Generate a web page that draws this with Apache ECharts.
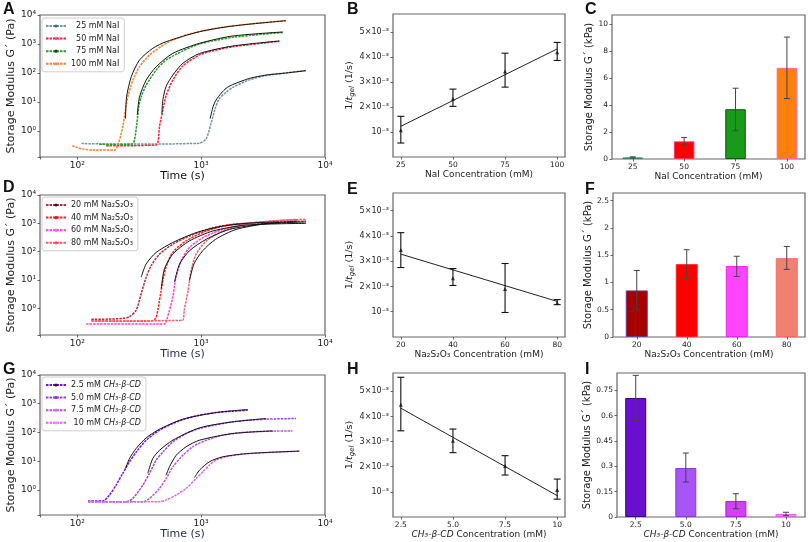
<!DOCTYPE html>
<html><head><meta charset="utf-8">
<script src="https://cdn.jsdelivr.net/npm/echarts@6/dist/echarts.min.js"></script>
<style>html,body{margin:0;padding:0;background:#fff}#c{width:810px;height:542px}</style>
</head><body><div id="c"></div>
<script>
// ---------- DATA ----------
// Panel A: G' vs time, NaI series  [time (s), G' (Pa)]
const naiNames = ['\u200725 mM NaI', '\u200750 mM NaI', '\u200775 mM NaI', '100 mM NaI'];
const naI25 = [[108,0.37],[150,0.36],[250,0.36],[400,0.36],[600,0.36],[800,0.37],[970,0.38],[1100,0.55],[1200,1.8],[1300,6],[1400,13],[1600,22],[1800,32],[2450,58],[3340,82],[4560,98],[7000,122]];
const naI50 = [[171,0.31],[250,0.31],[350,0.32],[434,0.33],[450,0.45],[461,1.4],[491,5.3],[522,17],[591,57],[711,175],[970,420],[1321,620],[1800,800],[3343,1110],[4283,1250]];
const naI75 = [[151,0.35],[220,0.34],[280,0.36],[290,0.49],[303,1.84],[314,6.9],[328,15.3],[360,38],[434,127],[522,281],[711,580],[970,1000],[1800,1700],[4557,2500]];
const naI100 = [[91,0.31],[100,0.27],[111,0.24],[134,0.22],[200,0.22],[219,0.49],[233,1.41],[245,5.3],[256,15.3],[281,57],[318,165],[383,418],[522,1054],[757,2043],[1321,3467],[2453,4898],[4846,6379]];
const fitNaI25 = [[1183,2.7],[1250,7],[1320,11.7],[1450,20],[1590,29.6],[1800,40],[2450,65],[3340,85],[4560,97],[7000,120]];
const fitNaI50 = [[482,4],[491,12],[522,35],[591,85],[711,215],[970,470],[1800,853],[4283,1268]];
const fitNaI75 = [[305,3.6],[318,15],[360,57],[434,165],[591,477],[970,1054],[1800,1888],[4557,2594]];
const fitNaI100 = [[245,2.7],[250,15],[273,75],[318,281],[407,709],[522,1203],[970,2663],[1800,4177],[4846,6379]];

// Panel D: Na2S2O3 series
const thioNames = ['20 mM Na₂S₂O₃', '40 mM Na₂S₂O₃', '60 mM Na₂S₂O₃', '80 mM Na₂S₂O₃'];
const thio20 = [[130,0.41],[180,0.42],[230,0.44],[263,0.5],[299,0.87],[328,3.3],[360,12.6],[395,32],[461,82],[590,183],[805,357],[1241,700],[1915,950],[2610,1000],[4270,1000]];
const thio40 = [[130,0.36],[250,0.35],[400,0.36],[430,0.45],[447,0.87],[476,4.3],[515,25],[590,94],[755,240],[1100,535],[1690,870],[3340,1120],[7030,1200]];
const thio60 = [[118,0.28],[250,0.28],[400,0.28],[505,0.28],[537,0.51],[590,2.5],[627,12.6],[690,48],[805,141],[1030,312],[1495,610],[2610,1043],[6000,1380]];
const thio80 = [[130,0.36],[300,0.36],[500,0.37],[710,0.38],[730,0.87],[785,4.3],[830,21.6],[910,82],[1100,240],[1495,535],[2310,920],[4270,1260],[7030,1380]];
const fitThio20 = [[328,12.6],[360,37],[433,94],[590,210],[910,470],[1495,800],[2610,1040],[4270,1120]];
const fitThio40 = [[476,5],[506,25],[590,82],[805,240],[1241,535],[2310,870],[7030,1000]];
const fitThio60 = [[609,8.5],[670,37],[805,108],[1100,275],[1690,610],[3150,960],[6000,1200]];
const fitThio80 = [[805,9.7],[875,37],[1030,108],[1310,275],[1915,610],[3340,960],[7030,1120]];

// Panel G: CH3-beta-CD series
const cdNames = ['2.5 mM CH₃-β-CD', '5.0 mM CH₃-β-CD', '7.5 mM CH₃-β-CD', ' 10 mM CH₃-β-CD'];
const cd25 = [[122,0.415],[161,0.415],[182,0.67],[206,1.49],[233,3.8],[264,9.6],[299,21],[360,54],[461,120],[591,205],[757,306],[970,400],[1321,494],[1800,550],[2377,596]];
const cd50 = [[122,0.39],[200,0.39],[248,0.39],[281,0.51],[339,1.49],[383,3.8],[434,11],[491,21],[591,47],[757,92],[970,138],[1800,235],[3343,290],[5830,306]];
const cd75 = [[122,0.39],[250,0.39],[339,0.39],[383,0.51],[461,1.14],[522,2.5],[591,6.4],[711,16],[857,32],[1100,54],[1500,81],[2453,105],[5460,114]];
const cd10 = [[122,0.39],[300,0.39],[461,0.39],[522,0.45],[628,0.67],[757,1.14],[910,2.5],[1031,4.3],[1166,7.4],[1321,11],[1588,14.3],[2036,17.3],[3343,20],[6210,22.5]];
const fitCd25 = [[245,5.6],[264,12.5],[299,28],[360,65],[461,130],[711,290],[1321,494],[2377,630]];
const fitCd50 = [[371,3.8],[407,12.5],[461,24],[591,54],[970,145],[1800,235],[3343,306]];
const fitCd75 = [[522,3.3],[555,6.4],[628,16],[757,32],[970,54],[1800,92],[3800,114]];
const fitCd10 = [[883,2.7],[970,4.9],[1166,9.6],[1500,14.3],[2453,18.7],[6210,22.5]];

// Panels B/E/H: 1/t_gel vs concentration
const naiConc = [25, 50, 75, 100];
const naiRate = [1.07e-3, 2.33e-3, 3.43e-3, 4.2e-3];
const naiRateLo = [0.56e-3, 2.03e-3, 2.8e-3, 3.87e-3];
const naiRateHi = [1.63e-3, 2.72e-3, 4.16e-3, 4.59e-3];
const naiFitY = [1.23e-3, 4.33e-3];

const thioConc = [20, 40, 60, 80];
const thioRate = [3.44e-3, 2.33e-3, 1.9e-3, 1.35e-3];
const thioRateLo = [2.75e-3, 2.04e-3, 0.97e-3, 1.28e-3];
const thioRateHi = [4.13e-3, 2.71e-3, 2.91e-3, 1.48e-3];
const thioFitY = [3.28e-3, 1.41e-3];

const cdConc = [2.5, 5.0, 7.5, 10];
const cdRate = [4.47e-3, 3.03e-3, 2.03e-3, 1.07e-3];
const cdRateLo = [3.43e-3, 2.56e-3, 1.67e-3, 0.71e-3];
const cdRateHi = [5.56e-3, 3.5e-3, 2.44e-3, 1.51e-3];
const cdFitY = [4.33e-3, 0.85e-3];

// Panels C/F/I: storage modulus bars (kPa)
const naiG = [0.12, 1.31, 3.7, 6.77];
const naiGLo = [0.08, 1.04, 2.1, 4.49];
const naiGHi = [0.16, 1.6, 5.26, 9.06];
const thioG = [0.854, 1.335, 1.30, 1.445];
const thioGLo = [0.5, 1.07, 1.11, 1.24];
const thioGHi = [1.22, 1.6, 1.48, 1.66];
const cdG = [0.705, 0.29, 0.095, 0.018];
const cdGLo = [0.572, 0.207, 0.049, 0.008];
const cdGHi = [0.839, 0.379, 0.138, 0.028];

// Tick labels
const rateTicks = [1e-3, 2e-3, 3e-3, 4e-3, 5e-3];
const rateTickLabels = ['10⁻³', '2×10⁻³', '3×10⁻³', '4×10⁻³', '5×10⁻³'];
const naiTickLabels = ['25', '50', '75', '100'];
const thioTickLabels = ['20', '40', '60', '80'];
const cdTickLabels = ['2.5', '5.0', '7.5', '10'];
const cTicks = [0, 2, 4, 6, 8, 10];
const cTickLabels = ['0', '2', '4', '6', '8', '10'];
const fTicks = [0, 0.5, 1, 1.5, 2, 2.5];
const fTickLabels = ['0', '0.5', '1', '1.5', '2', '2.5'];
const iTicks = [0, 0.15, 0.3, 0.45, 0.6, 0.75];
const iTickLabels = ['0', '0.15', '0.3', '0.45', '0.6', '0.75'];

// ---------- STYLE ----------
const FONT = 'DejaVu Sans';
const TXT = '#222';
const naiLine = ['#6f93ad', '#ff1f3a', '#2a9a2a', '#ff7f2a'];
const naiMark = ['#2f6f6f', '#ff44aa', '#114411', '#ff8866'];
const thioLine = ['#b0303c', '#ff2222', '#ff40e0', '#f06070'];
const thioMark = ['#3a0a20', '#ff0000', '#ff66ee', '#ff5050'];
const cdLine = ['#7a10e0', '#9a40f0', '#c050e0', '#d868ea'];
const cdMark = ['#2a0050', '#7a30d0', '#e070e0', '#ff88ff'];
const cBar = ['#4f9e8e', '#ff0000', '#1a9a1a', '#ff7f0e'];
const cEdge = ['#3a8a6a', '#ff3366', '#0a5a0a', '#ff6688'];
const fBar = ['#a80000', '#ff0000', '#ff44ff', '#f08070'];
const fEdge = ['#6a3a8a', '#ff2222', '#ee22ee', '#ff6666'];
const iBar = ['#6a0fcf', '#a855f7', '#cc44ee', '#ee88ee'];
const iEdge = ['#3a0080', '#8a3ad0', '#aa22cc', '#dd66dd'];

const SUP = {'-':'⁻','0':'⁰','1':'¹','2':'²','3':'³','4':'⁴','5':'⁵'};
function powLabel(v) {
  const e = Math.log10(v), r = Math.round(e);
  if (Math.abs(e - r) > 1e-6) return '';
  return '10' + String(r).split('').map(c => SUP[c]).join('');
}
function lookup(ticks, labels) {
  return v => {
    for (let i = 0; i < ticks.length; i++) {
      if (Math.abs(v - ticks[i]) <= Math.abs(ticks[i]) * 1e-6 + 1e-12) return labels[i];
    }
    return '';
  };
}

const grids = [
  {left: 40, top: 15, width: 285, height: 142},   // A
  {left: 393, top: 14, width: 172, height: 143},  // B
  {left: 612, top: 15, width: 193, height: 144},  // C
  {left: 40, top: 195, width: 285, height: 140},  // D
  {left: 393, top: 193, width: 172, height: 144}, // E
  {left: 613, top: 193, width: 192, height: 144}, // F
  {left: 40, top: 375, width: 285, height: 140},  // G
  {left: 393, top: 373, width: 172, height: 144}, // H
  {left: 617, top: 373, width: 188, height: 144}  // I
].map(g => Object.assign({show: true, borderColor: '#666', borderWidth: 1.2, backgroundColor: '#fff'}, g));

const tick = {show: true, length: 2.5, inside: false, lineStyle: {color: '#444', width: 0.8}};

function logX(gi, gap, nameColor) {
  return {type: 'log', logBase: 10, gridIndex: gi, min: 50, max: 10000,
    name: 'Time (s)', nameLocation: 'middle', nameGap: gap,
    nameTextStyle: {fontSize: 11, color: nameColor, fontFamily: FONT},
    axisLabel: {formatter: powLabel, fontSize: 9, color: TXT, margin: 4, fontFamily: FONT},
    axisTick: tick, axisLine: {show: false}, splitLine: {show: false}, minorTick: {show: false}};
}
function logY(gi, min) {
  return {type: 'log', logBase: 10, gridIndex: gi, min: min, max: 10000,
    name: 'Storage Modulus G\u00b4 (Pa)', nameLocation: 'middle', nameGap: 22.5, nameRotate: 90,
    nameTextStyle: {fontSize: 11, color: TXT, fontFamily: FONT},
    axisLabel: {formatter: powLabel, fontSize: 9, color: TXT, margin: 4, fontFamily: FONT},
    axisTick: tick, axisLine: {show: false}, splitLine: {show: false}, minorTick: {show: false}};
}
const richIt = {it: {fontStyle: 'italic', fontSize: 9, fontFamily: FONT, color: TXT}};
function valAxis(gi, min, max, ticks, labels, name, gap, isY, fs, nfs, rich) {
  const ax = {type: 'value', gridIndex: gi, min: min, max: max,
    name: name, nameLocation: 'middle', nameGap: gap,
    nameTextStyle: {fontSize: nfs, color: TXT, fontFamily: FONT, rich: rich || richIt},
    axisLabel: {customValues: ticks, formatter: lookup(ticks, labels), fontSize: fs, color: TXT, margin: 4, fontFamily: FONT},
    axisTick: Object.assign({customValues: ticks}, tick),
    axisLine: {show: false}, splitLine: {show: false}};
  if (isY) ax.nameRotate = 90;
  return ax;
}

const rateRich = {
  it: {fontStyle: 'italic', fontSize: 9.5, fontFamily: FONT, color: TXT},
  sub: {fontStyle: 'italic', fontSize: 7, fontFamily: FONT, color: TXT, padding: [5, 0, 0, 0]}
};
const rateName = '1/{it|t}{sub|gel} (1/s)';

const xAxes = [
  logX(0, 11.5, '#111'),
  valAxis(1, 21.25, 103.75, naiConc, naiTickLabels, 'NaI Concentration (mM)', 12, false, 7.5, 9),
  valAxis(2, 14.9, 108.8, naiConc, naiTickLabels, 'NaI Concentration (mM)', 10.5, false, 7.5, 9),
  logX(3, 12.8, '#1f2a48'),
  valAxis(4, 17, 83, thioConc, thioTickLabels, 'Na₂S₂O₃ Concentration (mM)', 10, false, 7.5, 9),
  valAxis(5, 10.5, 87.3, thioConc, thioTickLabels, 'Na₂S₂O₃ Concentration (mM)', 11.5, false, 7.5, 9),
  logX(6, 12.8, '#1f2a48'),
  valAxis(7, 2.125, 10.375, cdConc, cdTickLabels, '{it|CH₃-β-CD} Concentration (mM)', 10.8, false, 7.5, 9),
  valAxis(8, 1.565, 10.95, cdConc, cdTickLabels, '{it|CH₃-β-CD} Concentration (mM)', 10.8, false, 7.5, 9)
];
const yAxes = [
  logY(0, 0.127),
  valAxis(1, 0, 5.73e-3, rateTicks, rateTickLabels, rateName, 36, true, 8, 9.5, rateRich),
  valAxis(2, 0, 10.7, cTicks, cTickLabels, 'Storage Modulus G\u00b4 (kPa)', 15, true, 7.5, 10),
  logY(3, 0.115),
  valAxis(4, 0, 5.7e-3, rateTicks, rateTickLabels, rateName, 36, true, 8, 9.5, rateRich),
  valAxis(5, 0, 2.64, fTicks, fTickLabels, 'Storage Modulus G\u00b4 (kPa)', 16, true, 7.5, 10),
  logY(6, 0.135),
  valAxis(7, 0, 5.73e-3, rateTicks, rateTickLabels, rateName, 36, true, 8, 9.5, rateRich),
  valAxis(8, 0, 0.853, iTicks, iTickLabels, 'Storage Modulus G\u00b4 (kPa)', 21, true, 7.5, 10)
];

function curvePanel(gi, names, curves, fits, lineColors, markColors) {
  const s = [];
  curves.forEach((d, i) => s.push({
    type: 'line', name: names[i], xAxisIndex: gi, yAxisIndex: gi, data: d,
    smooth: 0.25, symbol: 'circle', symbolSize: 3, showSymbol: false,
    lineStyle: {color: lineColors[i], width: 1.5, type: [2.5, 1]}, itemStyle: {color: markColors[i]}, z: 2
  }));
  fits.forEach(d => s.push({
    type: 'line', xAxisIndex: gi, yAxisIndex: gi, data: d, smooth: 0.25,
    symbol: 'none', showSymbol: false, lineStyle: {color: '#111', width: 1}, z: 3, silent: true
  }));
  return s;
}
function errRender(cap, color, width) {
  return function (params, api) {
    const x = api.value(0), lo = api.value(1), hi = api.value(2);
    const a = api.coord([x, lo]), b = api.coord([x, hi]);
    const st = {stroke: color, lineWidth: width};
    return {type: 'group', children: [
      {type: 'line', shape: {x1: a[0], y1: a[1], x2: b[0], y2: b[1]}, style: st},
      {type: 'line', shape: {x1: a[0] - cap, y1: a[1], x2: a[0] + cap, y2: a[1]}, style: st},
      {type: 'line', shape: {x1: b[0] - cap, y1: b[1], x2: b[0] + cap, y2: b[1]}, style: st}
    ]};
  };
}
function ratePanel(gi, conc, rate, lo, hi, fitY) {
  return [
    {type: 'line', xAxisIndex: gi, yAxisIndex: gi, data: [[conc[0], fitY[0]], [conc[conc.length - 1], fitY[1]]],
     symbol: 'none', lineStyle: {color: '#222', width: 1}, silent: true, z: 2},
    {type: 'custom', xAxisIndex: gi, yAxisIndex: gi, renderItem: errRender(3.5, '#111', 1.1),
     data: conc.map((c, i) => [c, lo[i], hi[i]]), encode: {x: 0, y: [1, 2]}, z: 4, silent: true},
    {type: 'scatter', xAxisIndex: gi, yAxisIndex: gi, data: conc.map((c, i) => [c, rate[i]]),
     symbol: 'triangle', symbolSize: 4, itemStyle: {color: '#111'}, z: 5, silent: true}
  ];
}
function barPanel(gi, conc, vals, lo, hi, colors, edges, bw) {
  return [
    {type: 'bar', xAxisIndex: gi, yAxisIndex: gi, barWidth: bw, silent: true,
     data: conc.map((c, i) => ({value: [c, vals[i]], itemStyle: {color: colors[i], borderColor: edges[i], borderWidth: 1}}))},
    {type: 'custom', xAxisIndex: gi, yAxisIndex: gi, renderItem: errRender(3, '#444', 1),
     data: conc.map((c, i) => [c, lo[i], hi[i]]), encode: {x: 0, y: [1, 2]}, z: 4, silent: true}
  ];
}

const series = [].concat(
  curvePanel(0, naiNames, [naI25, naI50, naI75, naI100], [fitNaI25, fitNaI50, fitNaI75, fitNaI100], naiLine, naiMark),
  ratePanel(1, naiConc, naiRate, naiRateLo, naiRateHi, naiFitY),
  barPanel(2, naiConc, naiG, naiGLo, naiGHi, cBar, cEdge, 20.5),
  curvePanel(3, thioNames, [thio20, thio40, thio60, thio80], [fitThio20, fitThio40, fitThio60, fitThio80], thioLine, thioMark),
  ratePanel(4, thioConc, thioRate, thioRateLo, thioRateHi, thioFitY),
  barPanel(5, thioConc, thioG, thioGLo, thioGHi, fBar, fEdge, 22),
  curvePanel(6, cdNames, [cd25, cd50, cd75, cd10], [fitCd25, fitCd50, fitCd75, fitCd10], cdLine, cdMark),
  ratePanel(7, cdConc, cdRate, cdRateLo, cdRateHi, cdFitY),
  barPanel(8, cdConc, cdG, cdGLo, cdGHi, iBar, iEdge, 21)
);

function legendFor(names, top) {
  return {data: names, orient: 'vertical', left: 42, top: top, itemWidth: 20, itemHeight: 4, itemGap: 2.6,
    selectedMode: false, backgroundColor: '#fff', borderColor: '#cfcfcf', borderWidth: 1, borderRadius: 3,
    padding: [3, 5, 3, 3],
    textStyle: {fontSize: 8, color: '#222', fontFamily: FONT, lineHeight: 10,
      rich: {i: {fontStyle: 'italic', fontSize: 8, fontFamily: FONT, color: '#222'}}},
    formatter: n => n.replace('CH₃-β-CD', '{i|CH₃-β-CD}')};
}

const letters = [['A', 3, 2], ['B', 347, 2], ['C', 585, 2], ['D', 3, 180], ['E', 347, 182], ['F', 585, 182], ['G', 3, 362], ['H', 347, 362], ['I', 585, 362]];

const chart = echarts.init(document.getElementById('c'), null, {renderer: 'canvas'});
chart.setOption({
  animation: false,
  backgroundColor: '#fff',
  textStyle: {fontFamily: FONT},
  grid: grids,
  xAxis: xAxes,
  yAxis: yAxes,
  legend: [legendFor(naiNames, 18), legendFor(thioNames, 197), legendFor(cdNames, 377)],
  series: series,
  graphic: letters.map(l => ({type: 'text', x: l[1], y: l[2], z: 100,
    style: {text: l[0], fill: '#111', font: 'bold 16px "Liberation Sans", Arial, sans-serif', textVerticalAlign: 'top'}}))
});
</script></body></html>
